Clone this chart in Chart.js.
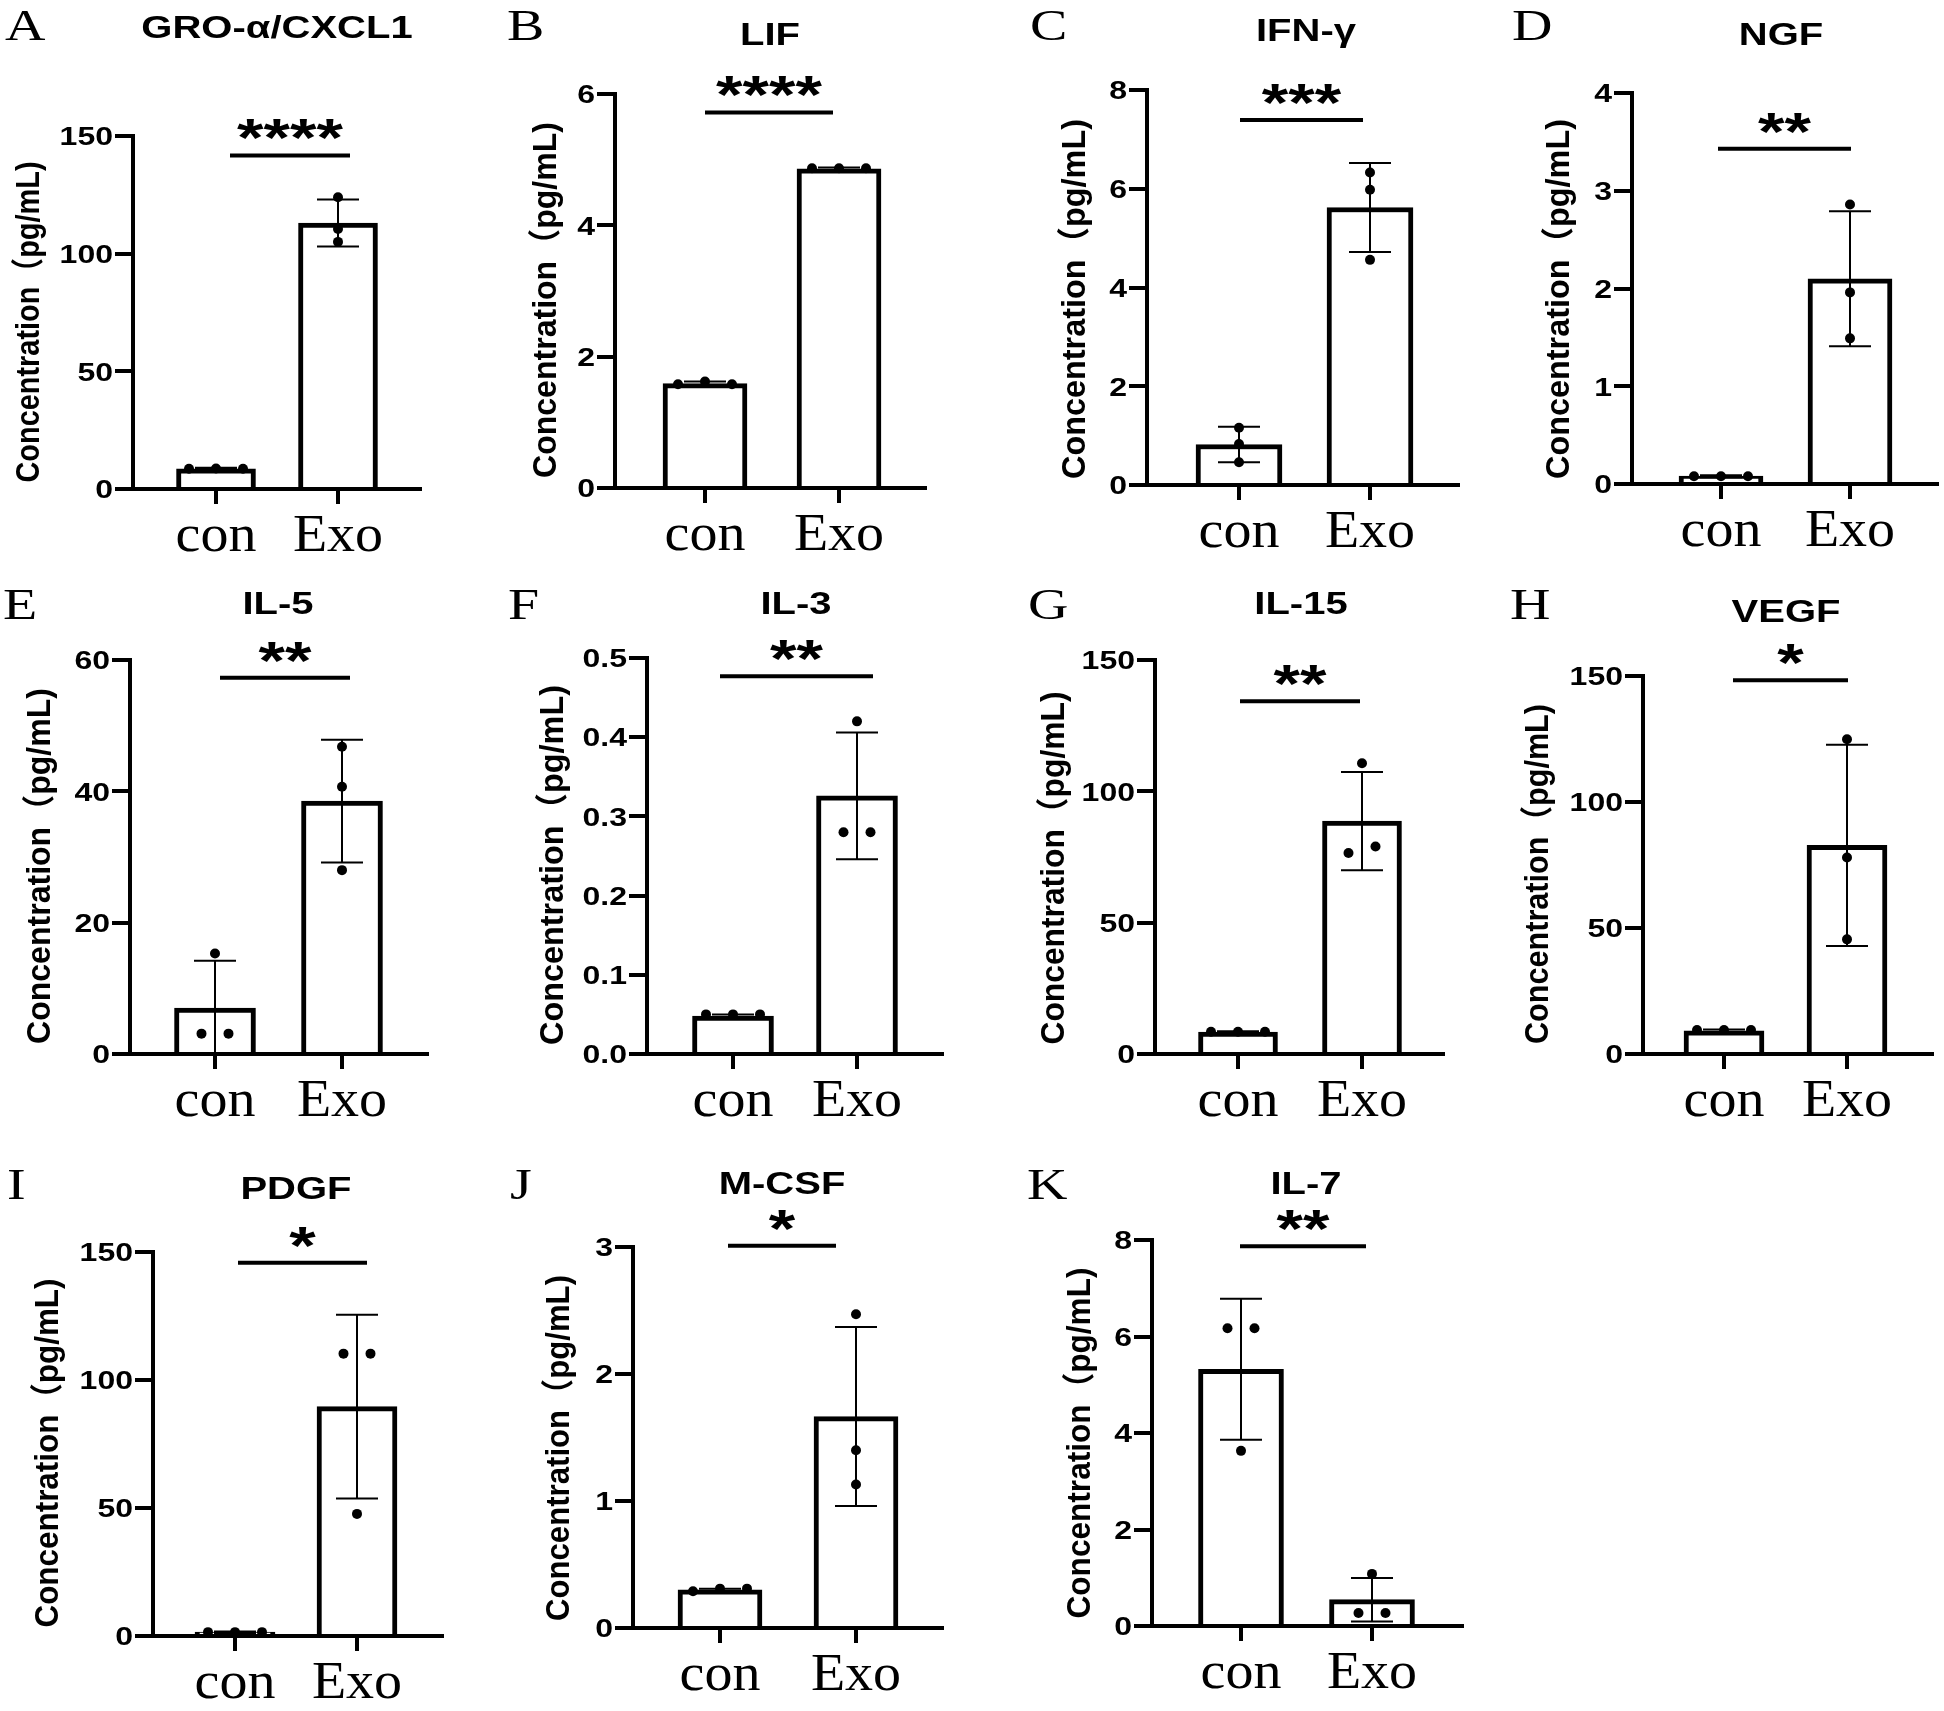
<!DOCTYPE html>
<html>
<head>
<meta charset="utf-8">
<script src="https://cdn.jsdelivr.net/npm/chart.js@4.4.1/dist/chart.umd.min.js"></script>
<style>
  html, body { margin: 0; padding: 0; background: #fff; }
  #page { position: relative; width: 1944px; height: 1711px; background: #fff; overflow: hidden; }
  #page canvas { position: absolute; }
</style>
</head>
<body>
<div id="page"></div>
<script>
// ---- data ----
const panelLetters = ['A', 'B', 'C', 'D', 'E', 'F', 'G', 'H', 'I', 'J', 'K'];
const cytokines = ['GRO-α/CXCL1', 'LIF', 'IFN-γ', 'NGF', 'IL-5', 'IL-3', 'IL-15', 'VEGF', 'PDGF', 'M-CSF', 'IL-7'];
const groups = ['con', 'Exo'];
const yAxisTitle = 'Concentration（pg/mL)';
const yMax = [150, 6, 8, 4, 60, 0.5, 150, 150, 150, 3, 8];
const yStep = [50, 2, 2, 1, 20, 0.1, 50, 50, 50, 1, 2];

const conMean = [8.6, 1.59, 0.82, 0.08, 7.0, 0.048, 8.3, 9.2, 1.5, 0.30, 5.32];
const conErr = [0.4, 0.03, 0.36, 0.01, 7.2, 0.002, 0.4, 0.5, 0.3, 0.01, 1.46];
const exoMean = [113, 4.86, 5.62, 2.1, 38.5, 0.326, 88.7, 82.8, 89.6, 1.665, 0.545];
const exoErr = [10, 0.02, 0.9, 0.69, 9.35, 0.08, 18.7, 39.9, 35.9, 0.705, 0.45];

const conPoints = [
    [8.6, 8.7, 8.6], [1.58, 1.62, 1.58], [1.16, 0.83, 0.46], [0.08, 0.08, 0.08],
    [15.3, 3.1, 3.1], [0.05, 0.05, 0.05], [8.5, 8.5, 8.5], [9.5, 9.5, 9.5],
    [1.5, 1.5, 1.5], [0.29, 0.31, 0.31], [6.17, 6.17, 3.63]
];
const exoPoints = [
    [124, 110.5, 105], [4.87, 4.87, 4.87], [6.33, 5.98, 4.56], [2.86, 1.96, 1.49],
    [46.8, 40.7, 28.0], [0.42, 0.28, 0.28], [110.7, 76.5, 79], [124.9, 78, 45.5],
    [110.3, 110.3, 47.7], [2.47, 1.40, 1.13], [1.08, 0.27, 0.27]
];

const sigLabels = ['****', '****', '***', '**', '**', '**', '**', '*', '*', '*', '**'];
const sigLevel = [141.7, 5.72, 7.39, 3.43, 57.3, 0.477, 134.3, 148.3, 145.8, 3.01, 7.87];

// ---- layout (page pixels) ----
const rowTop = [0, 560, 1140];
const rowHeight = [560, 580, 571];
const letterBase = [40, 619, 1199];
// row, axisX, yTop, yZero, xEnd, conX, exoX, barW, letterX, titleX, titleBase, yTitleX, yTitleY, yTitleLen, sigX1, sigX2
const panelBoxes = [
    [0, 133, 136, 489, 420, 216, 338, 79, 5, 277, 38, 28, 322, 321, 230, 350],
    [0, 615, 94, 488, 925, 705, 839, 84, 507, 770, 45, 545, 300, 356, 705, 833],
    [0, 1147, 90, 485, 1458, 1239, 1370, 86, 1030, 1306, 41, 1074, 299, 360, 1240, 1363],
    [0, 1632, 93, 484, 1937, 1721, 1850, 84, 1512, 1781, 45, 1558, 299, 360, 1718, 1851],
    [1, 130, 660, 1054, 427, 215, 342, 81, 3, 278, 614, 39, 866, 356, 220, 350],
    [1, 647, 658, 1054, 942, 733, 857, 81, 508, 796, 614, 552, 865, 360, 720, 873],
    [1, 1155, 660, 1054, 1443, 1238, 1362, 79, 1028, 1301, 614, 1053, 868, 353, 1240, 1360],
    [1, 1643, 676, 1054, 1932, 1724, 1847, 80, 1510, 1786, 622, 1537, 874, 340, 1733, 1848],
    [2, 153, 1252, 1636, 442, 235, 357, 80, 7, 296, 1199, 47, 1453, 349, 238, 367],
    [2, 633, 1247, 1628, 942, 720, 856, 84, 510, 782, 1194, 558, 1448, 346, 728, 836],
    [2, 1152, 1240, 1626, 1462, 1241, 1372, 85, 1027, 1306, 1194, 1079, 1443, 351, 1240, 1366]
];

const SANS = '"Liberation Sans", Arial, "Noto Sans CJK SC", sans-serif';
const SERIF = '"Liberation Serif", "Times New Roman", serif';

function drawText(ctx, txt, x, y, size, family, weight, sx, sy, align) {
    ctx.save();
    ctx.font = `${weight} ${size}px ${family}`;
    ctx.textAlign = align;
    ctx.textBaseline = 'alphabetic';
    ctx.translate(x, y);
    ctx.scale(sx, sy);
    ctx.fillText(txt, 0, 0);
    ctx.restore();
}

// spread points that sit on top of each other, like the original dot plots
function spreadPoints(vals, k, i, unitPx) {
    const tol = yMax[i] * 0.028;
    const used = vals.map(() => false);
    const out = [];
    vals.forEach((v, a) => {
        if (used[a]) return;
        const cluster = [a];
        used[a] = true;
        vals.forEach((w, b) => {
            if (!used[b] && Math.abs(w - v) < tol) { cluster.push(b); used[b] = true; }
        });
        cluster.forEach((idx, j) => {
            const off = (j - (cluster.length - 1) / 2) * 27 / unitPx;
            out.push({ x: k + off, y: vals[idx] });
        });
    });
    return out;
}

function makeOverlay(i, box) {
    const P = panelBoxes[i];
    return {
        id: 'overlay' + i,
        afterDatasetDraw(chart, args) {
            if (args.index !== 0) return;
            const ctx = chart.ctx;
            const xs = chart.scales.x, ys = chart.scales.y;
            ctx.save();
            ctx.strokeStyle = '#000';
            ctx.lineWidth = 2;
            [[conMean, conErr], [exoMean, exoErr]].forEach(([m, e], k) => {
                const px = xs.getPixelForValue(k);
                const top = ys.getPixelForValue(m[i] + e[i]);
                const bot = ys.getPixelForValue(Math.max(0, m[i] - e[i]));
                ctx.beginPath();
                ctx.moveTo(px, top); ctx.lineTo(px, bot);
                ctx.moveTo(px - 21, top); ctx.lineTo(px + 21, top);
                ctx.moveTo(px - 21, bot); ctx.lineTo(px + 21, bot);
                ctx.stroke();
            });
            ctx.restore();
        },
        afterDraw(chart) {
            const ctx = chart.ctx;
            const xs = chart.scales.x, ys = chart.scales.y;
            const area = chart.chartArea;
            const ox = box.left, oy = box.top;
            ctx.save();
            ctx.fillStyle = '#000';

            drawText(ctx, panelLetters[i], P[8] - ox, letterBase[P[0]] - oy, 56, SERIF, 'normal', 1, 0.78, 'left');
            drawText(ctx, cytokines[i], P[9] - ox, P[10] - oy, 40, SANS, 'bold', 1, 0.79, 'center');

            // y tick labels
            ys.ticks.forEach(t => {
                const py = ys.getPixelForValue(t.value);
                const lbl = yStep[i] < 1 ? t.value.toFixed(1) : String(Math.round(t.value));
                drawText(ctx, lbl, area.left - 20, py + 0.716 * 32 * 0.81 / 2, 32, SANS, 'bold', 1, 0.81, 'right');
            });

            // category labels
            groups.forEach((g, k) => {
                drawText(ctx, g, xs.getPixelForValue(k), area.bottom + 62, 56, SERIF, 'normal', 1, 0.95, 'center');
            });

            // rotated y title
            ctx.save();
            ctx.translate(P[11] - ox, P[12] - oy);
            ctx.rotate(-Math.PI / 2);
            ctx.font = `bold 33px ${SANS}`;
            const m = ctx.measureText(yAxisTitle);
            ctx.scale(P[13] / m.width, 1);
            ctx.textAlign = 'center';
            ctx.textBaseline = 'alphabetic';
            ctx.fillText(yAxisTitle, 0, (m.actualBoundingBoxAscent - m.actualBoundingBoxDescent) / 2);
            ctx.restore();

            // significance bar and stars
            const sy = ys.getPixelForValue(sigLevel[i]);
            const x0 = P[14] - ox, x1 = P[15] - ox;
            ctx.strokeStyle = '#000';
            ctx.lineWidth = 4;
            ctx.beginPath();
            ctx.moveTo(x0, sy); ctx.lineTo(x1, sy);
            ctx.stroke();
            ctx.font = `bold 68px ${SANS}`;
            const sm = ctx.measureText(sigLabels[i]);
            const base = sy - 26 + (sm.actualBoundingBoxAscent - sm.actualBoundingBoxDescent) / 2 * 0.79;
            drawText(ctx, sigLabels[i], (x0 + x1) / 2, base, 68, SANS, 'bold', 1, 0.79, 'center');
            ctx.restore();
        }
    };
}

const page = document.getElementById('page');

panelBoxes.forEach((P, i) => {
    const [row, axisX, yTop, yZero, xEnd, conX, exoX, barW] = P;
    const box = {
        left: Math.max(0, axisX - 150),
        top: rowTop[row]
    };
    box.width = xEnd + 8 - box.left;
    box.height = rowHeight[row];

    const canvas = document.createElement('canvas');
    canvas.width = box.width;
    canvas.height = box.height;
    canvas.style.left = box.left + 'px';
    canvas.style.top = box.top + 'px';
    canvas.style.width = box.width + 'px';
    canvas.style.height = box.height + 'px';
    page.appendChild(canvas);

    const unitPx = exoX - conX;
    const xMin = -(conX - axisX) / unitPx;
    const xMax = 1 + (xEnd - exoX) / unitPx;
    const yScaleW = axisX - box.left;
    const xScaleH = box.top + box.height - yZero;

    const points = spreadPoints(conPoints[i], 0, i, unitPx).concat(spreadPoints(exoPoints[i], 1, i, unitPx));

    new Chart(canvas, {
        type: 'bar',
        data: {
            datasets: [{
                type: 'bar',
                order: 1,
                data: [{ x: 0, y: conMean[i] }, { x: 1, y: exoMean[i] }],
                backgroundColor: '#ffffff',
                borderColor: '#000000',
                borderWidth: 5,
                borderSkipped: 'start',
                barThickness: barW
            }, {
                type: 'scatter',
                order: 0,
                data: points,
                pointRadius: 5,
                pointBackgroundColor: '#000000',
                pointBorderColor: '#000000',
                pointBorderWidth: 0,
                clip: false
            }]
        },
        options: {
            responsive: false,
            animation: false,
            events: [],
            layout: {
                padding: { top: yTop - box.top, right: box.left + box.width - xEnd, left: 0, bottom: 0 }
            },
            plugins: {
                legend: { display: false },
                tooltip: { enabled: false },
                title: { display: false }
            },
            scales: {
                x: {
                    type: 'linear',
                    min: xMin,
                    max: xMax,
                    offset: false,
                    grid: { display: true, offset: false, drawOnChartArea: false, drawTicks: true, tickLength: 15, tickWidth: 4, tickColor: '#000', color: '#000', lineWidth: 4 },
                    border: { display: true, width: 4, color: '#000' },
                    ticks: { display: false },
                    afterBuildTicks: s => { s.ticks = [{ value: 0 }, { value: 1 }]; },
                    afterFit: s => { s.height = xScaleH; }
                },
                y: {
                    type: 'linear',
                    min: 0,
                    max: yMax[i],
                    offset: false,
                    grid: { display: true, offset: false, drawOnChartArea: false, drawTicks: true, tickLength: 18, tickWidth: 4, tickColor: '#000', color: '#000', lineWidth: 4 },
                    border: { display: true, width: 4, color: '#000' },
                    ticks: { display: false, stepSize: yStep[i] },
                    afterFit: s => { s.width = yScaleW; }
                }
            }
        },
        plugins: [makeOverlay(i, box)]
    });
});
</script>
</body>
</html>
